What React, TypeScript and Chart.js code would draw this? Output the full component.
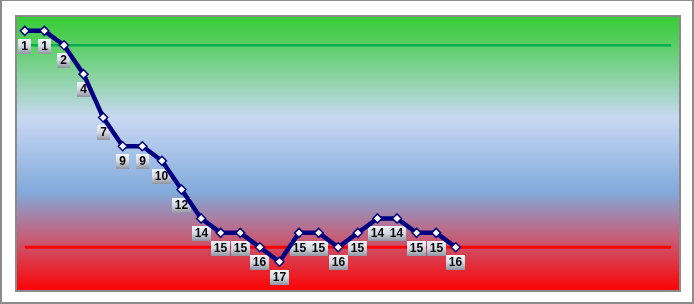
import React, { useEffect, useRef } from "react";
import { Chart, registerables } from "chart.js";

Chart.register(...registerables);

const matchdays: string[] = Array.from({ length: 34 }, (_, i) => String(i + 1));
const positions: (number | null)[] = [
  1, 1, 2, 4, 7, 9, 9, 10, 12, 14, 15, 15, 16, 17, 15, 15, 16, 15, 14, 14, 15, 15, 16,
];
const topLineValue = 2;
const bottomLineValue = 16;

const bgPlugin = {
  id: "bgPlugin",
  beforeDatasetsDraw(chart: any) {
    const { ctx, chartArea } = chart;
    const { left, top, right, bottom } = chartArea;
    const g = ctx.createLinearGradient(0, top, 0, bottom);
    g.addColorStop(0, "#33cc33");
    g.addColorStop(0.12, "#5fcf6a");
    g.addColorStop(0.37, "#c8d8f2");
    g.addColorStop(0.64, "#82aadb");
    g.addColorStop(0.8, "#c4607a");
    g.addColorStop(1, "#ff0000");
    ctx.save();
    ctx.fillStyle = g;
    ctx.fillRect(left, top, right - left, bottom - top);
    ctx.strokeStyle = "#8a8a8a";
    ctx.lineWidth = 2;
    ctx.strokeRect(left + 1, top + 1, right - left - 2, bottom - top - 2);
    ctx.restore();
  },
};

const labelPlugin = {
  id: "labelPlugin",
  beforeDatasetDraw(chart: any, args: any) {
    if (args.index !== 0) return;
    const { ctx } = chart;
    const meta = chart.getDatasetMeta(0);
    const data = chart.data.datasets[0].data;
    ctx.save();
    ctx.font = "bold 12px 'Liberation Sans', Arial, sans-serif";
    ctx.textAlign = "center";
    ctx.textBaseline = "middle";
    meta.data.forEach((pt: any, i: number) => {
      const v = data[i];
      if (v === null || v === undefined) return;
      const text = String(v);
      const tw = ctx.measureText(text).width;
      const w = Math.round(tw + 6);
      const h = 15;
      const x = Math.round(pt.x - w / 2);
      const y = Math.round(pt.y + 8);
      const g = ctx.createLinearGradient(0, y, 0, y + h);
      g.addColorStop(0, "#f2f4fa");
      g.addColorStop(0.5, "#d4d8e2");
      g.addColorStop(1, "#8f94a0");
      ctx.fillStyle = g;
      ctx.fillRect(x, y, w, h);
      ctx.fillStyle = "#000000";
      ctx.fillText(text, x + w / 2, y + h / 2 + 0.5);
    });
    ctx.restore();
  },
};

export default function App() {
  const canvasRef = useRef<HTMLCanvasElement | null>(null);

  useEffect(() => {
    document.body.style.margin = "0";
    const canvas = canvasRef.current;
    if (!canvas) return;
    const chart = new Chart(canvas, {
      type: "line",
      data: {
        labels: matchdays,
        datasets: [
          {
            data: positions,
            borderColor: "#000080",
            borderWidth: 4.5,
            pointStyle: "rectRot",
            pointRadius: 4.5,
            pointBackgroundColor: "#ffffff",
            pointBorderColor: "#000080",
            pointBorderWidth: 1.5,
            tension: 0,
            spanGaps: false,
          },
          {
            data: matchdays.map(() => topLineValue),
            borderColor: "#00b050",
            borderWidth: 2.5,
            pointRadius: 0,
          },
          {
            data: matchdays.map(() => bottomLineValue),
            borderColor: "#ff0000",
            borderWidth: 3,
            pointRadius: 0,
          },
        ],
      },
      options: {
        responsive: false,
        animation: false,
        layout: { padding: { left: 13, top: 14, right: 11, bottom: 10 } },
        plugins: {
          legend: { display: false },
          tooltip: { enabled: false },
        },
        scales: {
          x: { type: "category", offset: true, display: false },
          y: { reverse: true, min: -0.1, max: 19.1, display: false },
        },
      },
      plugins: [bgPlugin, labelPlugin],
    });
    return () => chart.destroy();
  }, []);

  return (
    <div
      style={{
        width: 694,
        height: 304,
        boxSizing: "border-box",
        background: "#ffffff",
        borderStyle: "solid",
        borderColor: "#8c8c8c",
        borderWidth: "1px 2px 2px 2px",
        overflow: "hidden",
      }}
    >
      <canvas ref={canvasRef} width={690} height={301} style={{ display: "block" }} />
    </div>
  );
}
